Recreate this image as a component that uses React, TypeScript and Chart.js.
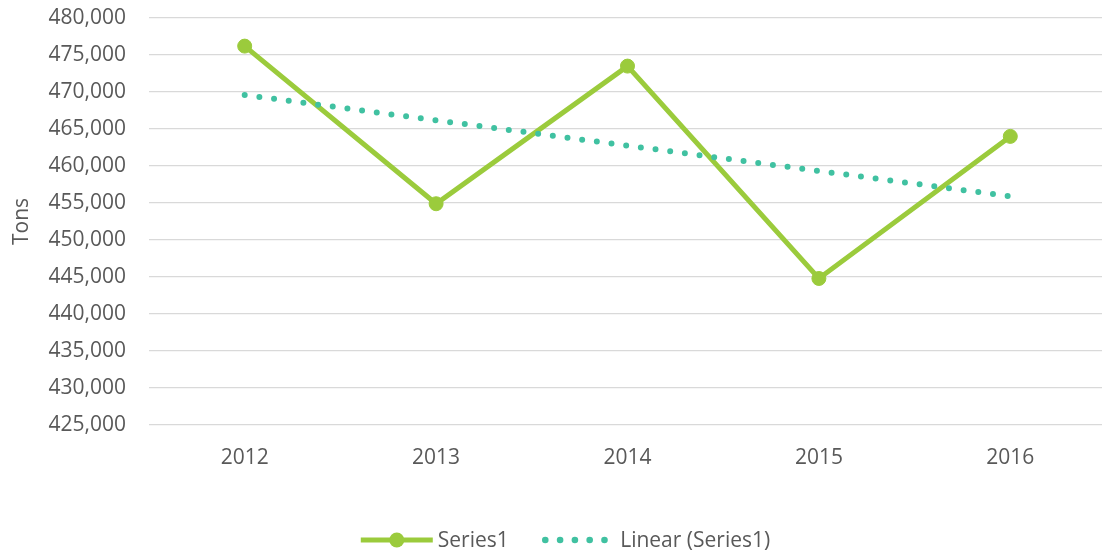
import React, { useEffect, useRef } from "react";
import { Chart, registerables } from "chart.js";

Chart.register(...registerables);

const categories = ["2012", "2013", "2014", "2015", "2016"];
const seriesValues = [476200, 454900, 473500, 444800, 464000];
const trendValues: (number | null)[] = [469600, null, null, null, 455900];
const yMin = 425000;
const yMax = 480000;
const yStep = 5000;
const seriesLabel = "Series1";
const trendLabel = "Linear (Series1)";
const yTitle = "Tons";

const FONT_FAMILY = "'Open Sans', sans-serif";
const TEXT_COLOR = "#595959";
const GREEN = "#9BCB3C";
const TEAL = "#40C1A1";

const legendPlugin = {
  id: "customLegend",
  afterDraw(chart: any) {
    const ctx = chart.ctx as CanvasRenderingContext2D;
    ctx.save();
    ctx.font = `21px ${FONT_FAMILY}`;
    ctx.fillStyle = TEXT_COLOR;
    ctx.textBaseline = "middle";
    ctx.textAlign = "left";
    const y = 540;
    const w1 = ctx.measureText(seriesLabel).width;
    const w2 = ctx.measureText(trendLabel).width;
    const lineW = 72;
    const dotGap = 14.8;
    const total = lineW + 5 + w1 + 33 + 7 + dotGap * 4 + 15.7 - 3.5 + w2;
    let x = 565.5 - total / 2;
    ctx.strokeStyle = GREEN;
    ctx.lineWidth = 5;
    ctx.lineCap = "butt";
    ctx.beginPath();
    ctx.moveTo(x, y);
    ctx.lineTo(x + lineW, y);
    ctx.stroke();
    ctx.fillStyle = GREEN;
    ctx.beginPath();
    ctx.arc(x + lineW / 2, y, 7.5, 0, Math.PI * 2);
    ctx.fill();
    x += lineW + 5;
    ctx.fillStyle = TEXT_COLOR;
    ctx.fillText(seriesLabel, x, y + 1);
    x += w1 + 33 + 3.5;
    ctx.fillStyle = TEAL;
    for (let i = 0; i < 5; i++) {
      ctx.beginPath();
      ctx.arc(x + i * dotGap, y, 3.3, 0, Math.PI * 2);
      ctx.fill();
    }
    x += dotGap * 4 + 15.7;
    ctx.fillStyle = TEXT_COLOR;
    ctx.fillText(trendLabel, x, y + 1);
    ctx.restore();
  },
};

export default function App() {
  const canvasRef = useRef<HTMLCanvasElement | null>(null);

  useEffect(() => {
    if (!canvasRef.current) return;
    const font = { family: FONT_FAMILY, size: 21 };
    const chart = new Chart(canvasRef.current, {
      type: "line",
      data: {
        labels: categories,
        datasets: [
          {
            label: trendLabel,
            data: trendValues,
            borderColor: TEAL,
            backgroundColor: TEAL,
            borderWidth: 6,
            borderDash: [0, 14.8],
            borderCapStyle: "round",
            pointRadius: 0,
            pointHoverRadius: 0,
            spanGaps: true,
            tension: 0,
            order: 0,
          },
          {
            label: seriesLabel,
            data: seriesValues,
            borderColor: GREEN,
            backgroundColor: GREEN,
            borderWidth: 5,
            pointRadius: 7,
            pointBorderWidth: 1,
            pointBackgroundColor: GREEN,
            pointBorderColor: GREEN,
            tension: 0,
            order: 1,
          },
        ],
      },
      options: {
        responsive: false,
        maintainAspectRatio: false,
        animation: false,
        events: [],
        layout: { padding: { top: 18, left: 0, right: 0, bottom: 0 } },
        plugins: {
          legend: { display: false },
          tooltip: { enabled: false },
        },
        scales: {
          x: {
            type: "category",
            offset: true,
            grid: { display: false, drawTicks: false },
            border: { display: false },
            ticks: { font, color: TEXT_COLOR, padding: 20 },
            afterFit(scale: any) {
              scale.height = 129;
              scale.paddingLeft = 0;
              scale.paddingRight = 0;
            },
          },
          y: {
            min: yMin,
            max: yMax,
            ticks: {
              stepSize: yStep,
              font,
              color: TEXT_COLOR,
              padding: 23,
              callback: (v: any) => Number(v).toLocaleString("en-US"),
            },
            grid: { color: "#D9D9D9", lineWidth: 1.3, drawTicks: false },
            border: { display: false },
            title: {
              display: true,
              text: yTitle,
              font,
              color: TEXT_COLOR,
              padding: { top: 9, bottom: 0 },
            },
            afterFit(scale: any) {
              scale.width = 149;
              scale.paddingTop = 0;
              scale.paddingBottom = 0;
            },
          },
        },
      },
      plugins: [legendPlugin],
    });
    return () => chart.destroy();
  }, []);

  return (
    <div
      style={{
        position: "fixed",
        left: 0,
        top: 0,
        width: 1102,
        height: 554,
        overflow: "hidden",
        background: "#fff",
      }}
    >
      <canvas
        ref={canvasRef}
        width={1114}
        height={554}
        style={{ display: "block", width: 1114, height: 554 }}
      />
    </div>
  );
}
